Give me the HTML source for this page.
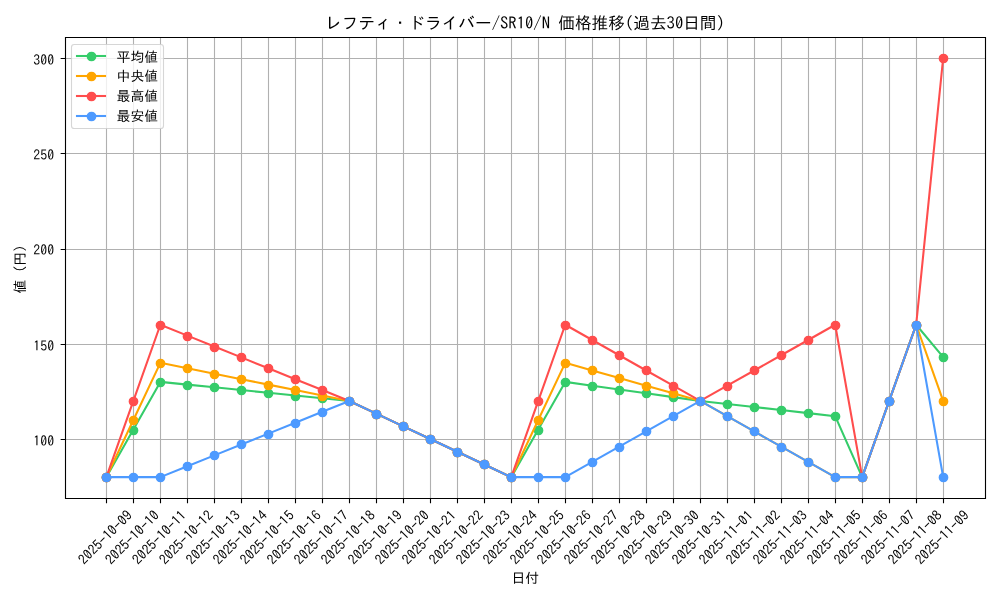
<!DOCTYPE html>
<html lang="ja"><head><meta charset="utf-8"><title>価格推移</title>
<style>html,body{margin:0;padding:0;background:#fff;overflow:hidden;}svg{display:block;font-family:'IPAGothic', 'Liberation Sans', sans-serif;fill:#000;}text{fill:#000;}</style>
</head><body>
<svg width="1000" height="600" viewBox="0 0 1000 600">
<rect width="1000" height="600" fill="#ffffff"/>
<path d="M106.5 37.5V498.5M133.5 37.5V498.5M160.5 37.5V498.5M187.5 37.5V498.5M214.5 37.5V498.5M241.5 37.5V498.5M268.5 37.5V498.5M295.5 37.5V498.5M322.5 37.5V498.5M349.5 37.5V498.5M376.5 37.5V498.5M403.5 37.5V498.5M430.5 37.5V498.5M457.5 37.5V498.5M484.5 37.5V498.5M511.5 37.5V498.5M538.5 37.5V498.5M565.5 37.5V498.5M592.5 37.5V498.5M619.5 37.5V498.5M646.5 37.5V498.5M673.5 37.5V498.5M700.5 37.5V498.5M727.5 37.5V498.5M754.5 37.5V498.5M781.5 37.5V498.5M808.5 37.5V498.5M835.5 37.5V498.5M862.5 37.5V498.5M889.5 37.5V498.5M916.5 37.5V498.5M943.5 37.5V498.5M65.5 439.5H985.5M65.5 344.5H985.5M65.5 249.5H985.5M65.5 153.5H985.5M65.5 58.5H985.5" fill="none" stroke="#b0b0b0" stroke-width="1.11"/>
<g clip-path="url(#clip)">
<polyline points="106.37,477.15 133.36,429.52 160.36,381.9 187.35,384.62 214.34,387.34 241.34,390.06 268.33,392.78 295.32,395.5 322.32,398.23 349.31,400.95 376.3,413.65 403.3,426.35 430.29,439.05 457.28,451.75 484.28,464.45 511.27,477.15 538.26,429.52 565.25,381.9 592.25,385.71 619.24,389.52 646.23,393.33 673.23,397.14 700.22,400.95 727.21,404 754.21,407.04 781.2,410.09 808.19,413.14 835.19,416.19 862.18,477.15 889.17,400.95 916.17,324.75 943.16,357.13" fill="none" stroke="#35cc6a" stroke-width="2.08" stroke-linejoin="round" stroke-linecap="square"/>
<g fill="#35cc6a" stroke="#35cc6a" stroke-width="1.39"><circle cx="106.5" cy="477.5" r="4.17"/><circle cx="133.5" cy="430.5" r="4.17"/><circle cx="160.5" cy="382.5" r="4.17"/><circle cx="187.5" cy="385.5" r="4.17"/><circle cx="214.5" cy="387.5" r="4.17"/><circle cx="241.5" cy="390.5" r="4.17"/><circle cx="268.5" cy="393.5" r="4.17"/><circle cx="295.5" cy="396.5" r="4.17"/><circle cx="322.5" cy="398.5" r="4.17"/><circle cx="349.5" cy="401.5" r="4.17"/><circle cx="376.5" cy="414.5" r="4.17"/><circle cx="403.5" cy="426.5" r="4.17"/><circle cx="430.5" cy="439.5" r="4.17"/><circle cx="457.5" cy="452.5" r="4.17"/><circle cx="484.5" cy="464.5" r="4.17"/><circle cx="511.5" cy="477.5" r="4.17"/><circle cx="538.5" cy="430.5" r="4.17"/><circle cx="565.5" cy="382.5" r="4.17"/><circle cx="592.5" cy="386.5" r="4.17"/><circle cx="619.5" cy="390.5" r="4.17"/><circle cx="646.5" cy="393.5" r="4.17"/><circle cx="673.5" cy="397.5" r="4.17"/><circle cx="700.5" cy="401.5" r="4.17"/><circle cx="727.5" cy="404.5" r="4.17"/><circle cx="754.5" cy="407.5" r="4.17"/><circle cx="781.5" cy="410.5" r="4.17"/><circle cx="808.5" cy="413.5" r="4.17"/><circle cx="835.5" cy="416.5" r="4.17"/><circle cx="862.5" cy="477.5" r="4.17"/><circle cx="889.5" cy="401.5" r="4.17"/><circle cx="916.5" cy="325.5" r="4.17"/><circle cx="943.5" cy="357.5" r="4.17"/></g>
<polyline points="106.37,477.15 133.36,420 160.36,362.85 187.35,368.29 214.34,373.73 241.34,379.18 268.33,384.62 295.32,390.06 322.32,395.5 349.31,400.95 376.3,413.65 403.3,426.35 430.29,439.05 457.28,451.75 484.28,464.45 511.27,477.15 538.26,420 565.25,362.85 592.25,370.47 619.24,378.09 646.23,385.71 673.23,393.33 700.22,400.95 727.21,416.19 754.21,431.43 781.2,446.67 808.19,461.91 835.19,477.15 862.18,477.15 889.17,400.95 916.17,324.75 943.16,400.95" fill="none" stroke="#ffa500" stroke-width="2.08" stroke-linejoin="round" stroke-linecap="square"/>
<g fill="#ffa500" stroke="#ffa500" stroke-width="1.39"><circle cx="106.5" cy="477.5" r="4.17"/><circle cx="133.5" cy="420.5" r="4.17"/><circle cx="160.5" cy="363.5" r="4.17"/><circle cx="187.5" cy="368.5" r="4.17"/><circle cx="214.5" cy="374.5" r="4.17"/><circle cx="241.5" cy="379.5" r="4.17"/><circle cx="268.5" cy="385.5" r="4.17"/><circle cx="295.5" cy="390.5" r="4.17"/><circle cx="322.5" cy="396.5" r="4.17"/><circle cx="349.5" cy="401.5" r="4.17"/><circle cx="376.5" cy="414.5" r="4.17"/><circle cx="403.5" cy="426.5" r="4.17"/><circle cx="430.5" cy="439.5" r="4.17"/><circle cx="457.5" cy="452.5" r="4.17"/><circle cx="484.5" cy="464.5" r="4.17"/><circle cx="511.5" cy="477.5" r="4.17"/><circle cx="538.5" cy="420.5" r="4.17"/><circle cx="565.5" cy="363.5" r="4.17"/><circle cx="592.5" cy="370.5" r="4.17"/><circle cx="619.5" cy="378.5" r="4.17"/><circle cx="646.5" cy="386.5" r="4.17"/><circle cx="673.5" cy="393.5" r="4.17"/><circle cx="700.5" cy="401.5" r="4.17"/><circle cx="727.5" cy="416.5" r="4.17"/><circle cx="754.5" cy="431.5" r="4.17"/><circle cx="781.5" cy="447.5" r="4.17"/><circle cx="808.5" cy="462.5" r="4.17"/><circle cx="835.5" cy="477.5" r="4.17"/><circle cx="862.5" cy="477.5" r="4.17"/><circle cx="889.5" cy="401.5" r="4.17"/><circle cx="916.5" cy="325.5" r="4.17"/><circle cx="943.5" cy="401.5" r="4.17"/></g>
<polyline points="106.37,477.15 133.36,400.95 160.36,324.75 187.35,335.63 214.34,346.52 241.34,357.41 268.33,368.29 295.32,379.18 322.32,390.06 349.31,400.95 376.3,413.65 403.3,426.35 430.29,439.05 457.28,451.75 484.28,464.45 511.27,477.15 538.26,400.95 565.25,324.75 592.25,339.99 619.24,355.23 646.23,370.47 673.23,385.71 700.22,400.95 727.21,385.71 754.21,370.47 781.2,355.23 808.19,339.99 835.19,324.75 862.18,477.15 889.17,400.95 916.17,324.75 943.16,58.05" fill="none" stroke="#ff4d4d" stroke-width="2.08" stroke-linejoin="round" stroke-linecap="square"/>
<g fill="#ff4d4d" stroke="#ff4d4d" stroke-width="1.39"><circle cx="106.5" cy="477.5" r="4.17"/><circle cx="133.5" cy="401.5" r="4.17"/><circle cx="160.5" cy="325.5" r="4.17"/><circle cx="187.5" cy="336.5" r="4.17"/><circle cx="214.5" cy="347.5" r="4.17"/><circle cx="241.5" cy="357.5" r="4.17"/><circle cx="268.5" cy="368.5" r="4.17"/><circle cx="295.5" cy="379.5" r="4.17"/><circle cx="322.5" cy="390.5" r="4.17"/><circle cx="349.5" cy="401.5" r="4.17"/><circle cx="376.5" cy="414.5" r="4.17"/><circle cx="403.5" cy="426.5" r="4.17"/><circle cx="430.5" cy="439.5" r="4.17"/><circle cx="457.5" cy="452.5" r="4.17"/><circle cx="484.5" cy="464.5" r="4.17"/><circle cx="511.5" cy="477.5" r="4.17"/><circle cx="538.5" cy="401.5" r="4.17"/><circle cx="565.5" cy="325.5" r="4.17"/><circle cx="592.5" cy="340.5" r="4.17"/><circle cx="619.5" cy="355.5" r="4.17"/><circle cx="646.5" cy="370.5" r="4.17"/><circle cx="673.5" cy="386.5" r="4.17"/><circle cx="700.5" cy="401.5" r="4.17"/><circle cx="727.5" cy="386.5" r="4.17"/><circle cx="754.5" cy="370.5" r="4.17"/><circle cx="781.5" cy="355.5" r="4.17"/><circle cx="808.5" cy="340.5" r="4.17"/><circle cx="835.5" cy="325.5" r="4.17"/><circle cx="862.5" cy="477.5" r="4.17"/><circle cx="889.5" cy="401.5" r="4.17"/><circle cx="916.5" cy="325.5" r="4.17"/><circle cx="943.5" cy="58.5" r="4.17"/></g>
<polyline points="106.37,477.15 133.36,477.15 160.36,477.15 187.35,466.26 214.34,455.37 241.34,444.49 268.33,433.6 295.32,422.72 322.32,411.83 349.31,400.95 376.3,413.65 403.3,426.35 430.29,439.05 457.28,451.75 484.28,464.45 511.27,477.15 538.26,477.15 565.25,477.15 592.25,461.91 619.24,446.67 646.23,431.43 673.23,416.19 700.22,400.95 727.21,416.19 754.21,431.43 781.2,446.67 808.19,461.91 835.19,477.15 862.18,477.15 889.17,400.95 916.17,324.75 943.16,477.15" fill="none" stroke="#4d9aff" stroke-width="2.08" stroke-linejoin="round" stroke-linecap="square"/>
<g fill="#4d9aff" stroke="#4d9aff" stroke-width="1.39"><circle cx="106.5" cy="477.5" r="4.17"/><circle cx="133.5" cy="477.5" r="4.17"/><circle cx="160.5" cy="477.5" r="4.17"/><circle cx="187.5" cy="466.5" r="4.17"/><circle cx="214.5" cy="455.5" r="4.17"/><circle cx="241.5" cy="444.5" r="4.17"/><circle cx="268.5" cy="434.5" r="4.17"/><circle cx="295.5" cy="423.5" r="4.17"/><circle cx="322.5" cy="412.5" r="4.17"/><circle cx="349.5" cy="401.5" r="4.17"/><circle cx="376.5" cy="414.5" r="4.17"/><circle cx="403.5" cy="426.5" r="4.17"/><circle cx="430.5" cy="439.5" r="4.17"/><circle cx="457.5" cy="452.5" r="4.17"/><circle cx="484.5" cy="464.5" r="4.17"/><circle cx="511.5" cy="477.5" r="4.17"/><circle cx="538.5" cy="477.5" r="4.17"/><circle cx="565.5" cy="477.5" r="4.17"/><circle cx="592.5" cy="462.5" r="4.17"/><circle cx="619.5" cy="447.5" r="4.17"/><circle cx="646.5" cy="431.5" r="4.17"/><circle cx="673.5" cy="416.5" r="4.17"/><circle cx="700.5" cy="401.5" r="4.17"/><circle cx="727.5" cy="416.5" r="4.17"/><circle cx="754.5" cy="431.5" r="4.17"/><circle cx="781.5" cy="447.5" r="4.17"/><circle cx="808.5" cy="462.5" r="4.17"/><circle cx="835.5" cy="477.5" r="4.17"/><circle cx="862.5" cy="477.5" r="4.17"/><circle cx="889.5" cy="401.5" r="4.17"/><circle cx="916.5" cy="325.5" r="4.17"/><circle cx="943.5" cy="477.5" r="4.17"/></g>
</g>
<defs><clipPath id="clip"><rect x="64.53" y="37.1" width="920.47" height="461"/></clipPath></defs>
<path d="M65.5 498.5V37.5H985.5V498.5Z" fill="none" stroke="#000" stroke-width="1.11" stroke-linejoin="miter" stroke-linecap="square"/>
<path d="M106.5 498.5v4.86M133.5 498.5v4.86M160.5 498.5v4.86M187.5 498.5v4.86M214.5 498.5v4.86M241.5 498.5v4.86M268.5 498.5v4.86M295.5 498.5v4.86M322.5 498.5v4.86M349.5 498.5v4.86M376.5 498.5v4.86M403.5 498.5v4.86M430.5 498.5v4.86M457.5 498.5v4.86M484.5 498.5v4.86M511.5 498.5v4.86M538.5 498.5v4.86M565.5 498.5v4.86M592.5 498.5v4.86M619.5 498.5v4.86M646.5 498.5v4.86M673.5 498.5v4.86M700.5 498.5v4.86M727.5 498.5v4.86M754.5 498.5v4.86M781.5 498.5v4.86M808.5 498.5v4.86M835.5 498.5v4.86M862.5 498.5v4.86M889.5 498.5v4.86M916.5 498.5v4.86M943.5 498.5v4.86M65.5 439.5h-4.86M65.5 344.5h-4.86M65.5 249.5h-4.86M65.5 153.5h-4.86M65.5 58.5h-4.86" fill="none" stroke="#000" stroke-width="1.11"/>
<rect x="71.5" y="44.5" width="92" height="84" rx="2.78" fill="#ffffff" fill-opacity="0.8" stroke="#cccccc" stroke-opacity="0.8" stroke-width="1.11"/>
<path d="M77 56H105" stroke="#35cc6a" stroke-width="2.08" stroke-linecap="square"/>
<circle cx="91.5" cy="56.5" r="4.17" fill="#35cc6a" stroke="#35cc6a" stroke-width="1.39"/>
<path d="M77 76H105" stroke="#ffa500" stroke-width="2.08" stroke-linecap="square"/>
<circle cx="91.5" cy="76.5" r="4.17" fill="#ffa500" stroke="#ffa500" stroke-width="1.39"/>
<path d="M77 96H105" stroke="#ff4d4d" stroke-width="2.08" stroke-linecap="square"/>
<circle cx="91.5" cy="96.5" r="4.17" fill="#ff4d4d" stroke="#ff4d4d" stroke-width="1.39"/>
<path d="M77 116H105" stroke="#4d9aff" stroke-width="2.08" stroke-linecap="square"/>
<circle cx="91.5" cy="116.5" r="4.17" fill="#4d9aff" stroke="#4d9aff" stroke-width="1.39"/>
<g opacity="0.999" font-size="13.89"><text transform="translate(84.15 565.4) rotate(-45)">2025-10-09</text>
<text transform="translate(111.14 565.4) rotate(-45)">2025-10-10</text>
<text transform="translate(138.14 565.4) rotate(-45)">2025-10-11</text>
<text transform="translate(165.13 565.4) rotate(-45)">2025-10-12</text>
<text transform="translate(192.12 565.4) rotate(-45)">2025-10-13</text>
<text transform="translate(219.12 565.4) rotate(-45)">2025-10-14</text>
<text transform="translate(246.11 565.4) rotate(-45)">2025-10-15</text>
<text transform="translate(273.1 565.4) rotate(-45)">2025-10-16</text>
<text transform="translate(300.09 565.4) rotate(-45)">2025-10-17</text>
<text transform="translate(327.09 565.4) rotate(-45)">2025-10-18</text>
<text transform="translate(354.08 565.4) rotate(-45)">2025-10-19</text>
<text transform="translate(381.07 565.4) rotate(-45)">2025-10-20</text>
<text transform="translate(408.07 565.4) rotate(-45)">2025-10-21</text>
<text transform="translate(435.06 565.4) rotate(-45)">2025-10-22</text>
<text transform="translate(462.05 565.4) rotate(-45)">2025-10-23</text>
<text transform="translate(489.05 565.4) rotate(-45)">2025-10-24</text>
<text transform="translate(516.04 565.4) rotate(-45)">2025-10-25</text>
<text transform="translate(543.03 565.4) rotate(-45)">2025-10-26</text>
<text transform="translate(570.03 565.4) rotate(-45)">2025-10-27</text>
<text transform="translate(597.02 565.4) rotate(-45)">2025-10-28</text>
<text transform="translate(624.01 565.4) rotate(-45)">2025-10-29</text>
<text transform="translate(651.01 565.4) rotate(-45)">2025-10-30</text>
<text transform="translate(678 565.4) rotate(-45)">2025-10-31</text>
<text transform="translate(704.99 565.4) rotate(-45)">2025-11-01</text>
<text transform="translate(731.99 565.4) rotate(-45)">2025-11-02</text>
<text transform="translate(758.98 565.4) rotate(-45)">2025-11-03</text>
<text transform="translate(785.97 565.4) rotate(-45)">2025-11-04</text>
<text transform="translate(812.97 565.4) rotate(-45)">2025-11-05</text>
<text transform="translate(839.96 565.4) rotate(-45)">2025-11-06</text>
<text transform="translate(866.95 565.4) rotate(-45)">2025-11-07</text>
<text transform="translate(893.95 565.4) rotate(-45)">2025-11-08</text>
<text transform="translate(920.94 565.4) rotate(-45)">2025-11-09</text>
<text x="525.37" y="582.9" text-anchor="middle">日付</text>
<text x="54.11" y="445.76" text-anchor="end">100</text>
<text x="54.11" y="350.51" text-anchor="end">150</text>
<text x="54.11" y="255.27" text-anchor="end">200</text>
<text x="54.11" y="160.02" text-anchor="end">250</text>
<text x="54.11" y="64.77" text-anchor="end">300</text>
<text x="25.43" y="269.1" text-anchor="middle" transform="rotate(-90 25.43 269.1)">値 (円)</text>
<text x="524.97" y="29.07" font-size="16.67" text-anchor="middle">レフティ・ドライバー/SR10/N 価格推移(過去30日間)</text>
<text x="116.52" y="61.55">平均値</text>
<text x="116.52" y="80.66">中央値</text>
<text x="116.52" y="101.17">最高値</text>
<text x="116.52" y="120.83">最安値</text></g>
</svg>
</body></html>
